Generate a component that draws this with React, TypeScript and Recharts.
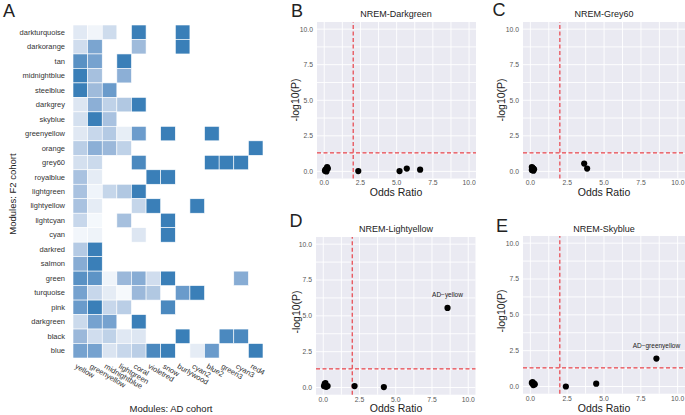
import React from "react"
import {
  CartesianGrid,
  LabelList,
  ReferenceLine,
  Scatter,
  ScatterChart,
  XAxis,
  YAxis,
} from "recharts"

// panel A: module overlap heatmap
const adModules = [
  "yellow", "greenyellow", "midnightblue", "lightgreen", "coral", "violetred",
  "snow", "burlywood", "cyan2", "blue2", "green3", "cyan3", "red4",
]

const f2Modules = [
  "darkturquoise", "darkorange", "tan", "midnightblue", "steelblue", "darkgrey",
  "skyblue", "greenyellow", "orange", "grey60", "royalblue", "lightgreen",
  "lightyellow", "lightcyan", "cyan", "darkred", "salmon", "green", "turquoise",
  "pink", "darkgreen", "black", "blue",
]

const _ = null
const overlap: (number | null)[][] = [
  [0.17, 0.05, 0.3, _, 1, _, _, 1, _, _, _, _, _],
  [0.29, 0.73, _, _, 0.58, _, _, 1, _, _, _, _, _],
  [0.87, 0.75, _, 1, _, _, _, _, _, _, _, _, _],
  [1, 0.54, _, 0.66, _, _, _, _, _, _, _, _, _],
  [1, 0.58, 0.8, _, _, _, _, _, _, _, _, _, _],
  [0.2, 0.66, 0.4, 0.48, 1, _, _, _, _, _, _, _, _],
  [0.26, 1, 0.52, _, _, _, _, _, _, _, _, _, _],
  [0.18, 0.35, 0.46, 0.12, 0.79, _, 1, _, _, 1, _, _, _],
  [0.43, 0.66, 0.6, 0.4, _, _, _, _, _, _, _, _, 1],
  [0.26, 0.32, _, _, 0.93, _, _, _, _, 1, 1, 1, _],
  [0.52, 0.14, _, _, _, 1, 1, _, _, _, _, _, _],
  [0.52, 0.06, 0.36, 0.48, 1, _, _, _, _, _, _, _, _],
  [0.52, 0.14, _, _, 0.36, 1, _, _, 1, _, _, _, _],
  [0.35, 0.02, _, 0.54, _, _, 1, _, _, _, _, _, _],
  [0.04, 0.07, _, _, 0.2, _, 1, _, _, _, _, _, _],
  [0.46, 1, _, _, _, _, _, _, _, _, _, _, _],
  [0.68, 1, _, _, _, _, _, _, _, _, _, _, _],
  [0.87, 0.85, 0.06, 0.6, 0.68, 0.29, 1, _, _, _, _, 0.68, _],
  [0.75, 0.35, 0.14, 0.01, 0.6, 0.48, _, 0.8, 1, _, _, _, _],
  [0.8, 1, 0.35, 0.43, _, _, 0.93, _, _, _, _, _, _],
  [0.32, 0.75, 0.75, _, 1, _, _, _, _, _, _, _, _],
  [0.6, 0.29, 0.4, 0.18, 0.2, _, _, 1, _, _, 0.93, 0.93, _],
  [0.75, 0.75, 0.22, 0.35, 0.43, 0.93, 1, _, 0.14, 0.8, _, _, 1],
]

// panels B-E: odds ratio vs -log10(P)
const darkgreenOdds = [0.05, 0.1, 0.2, 0.25, 0.15, 2.35, 5.2, 5.7, 6.62]
const darkgreenLogP = [0.05, 0.15, 0.3, 0.2, 0.0, 0.02, 0.02, 0.2, 0.12]

const grey60Odds = [0.1, 0.15, 0.2, 0.25, 0.1, 0.2, 3.65, 3.85]
const grey60LogP = [0.1, 0.25, 0.05, 0.15, 0.3, 0.2, 0.55, 0.2]

const lightyellowOdds = [0.05, 0.1, 0.15, 0.3, 0.2, 2.16, 4.18, 8.57]
const lightyellowLogP = [0.1, 0.25, 0.3, 0.1, 0.05, 0.1, 0.03, 5.55]
const lightyellowNames = ["", "", "", "", "", "", "", "AD\u2212yellow"]

const skyblueOdds = [0.1, 0.2, 0.3, 0.25, 0.15, 2.41, 4.47, 8.56]
const skyblueLogP = [0.25, 0.1, 0.15, 0.2, 0.3, 0.0, 0.2, 1.95]
const skyblueNames = ["", "", "", "", "", "", "", "AD\u2212greenyellow"]

const axisTicks = [0, 2.5, 5, 7.5, 10]
const gridValues = [0, 1.25, 2.5, 3.75, 5, 6.25, 7.5, 8.75, 10]

const font = "'Liberation Sans', Arial, Helvetica, sans-serif"

const blueStops: [number, number[]][] = [
  [0, [247, 250, 253]],
  [0.2, [221, 230, 242]],
  [0.4, [191, 210, 232]],
  [0.6, [155, 184, 218]],
  [0.8, [106, 155, 203]],
  [1, [58, 127, 184]],
]

function blues(v: number) {
  for (let i = 1; i < blueStops.length; i++) {
    const [t1, c1] = blueStops[i]
    const [t0, c0] = blueStops[i - 1]
    if (v <= t1) {
      const f = (v - t0) / (t1 - t0)
      const c = c0.map((a, k) => Math.round(a + (c1[k] - a) * f))
      return `rgb(${c[0]},${c[1]},${c[2]})`
    }
  }
  return "rgb(58,127,184)"
}

const heatW = 280
const heatH = 415
const heatMargin = { top: 25, right: 17, bottom: 0, left: 0 }
const heatYAxisW = 73
const heatXAxisH = 57
const cellW = (heatW - heatMargin.left - heatMargin.right - heatYAxisW) / adModules.length
const cellH = (heatH - heatMargin.top - heatMargin.bottom - heatXAxisH) / f2Modules.length

const heatCells = overlap.flatMap((row, r) =>
  row
    .map((v, c) => (v === null ? null : { x: c + 0.5, y: r + 0.5, v }))
    .filter((d) => d !== null)
)

const HeatCell = (props: any) => {
  const { cx, cy, payload } = props
  return (
    <rect
      x={cx - cellW / 2}
      y={cy - cellH / 2}
      width={cellW}
      height={cellH}
      fill={blues(payload.v)}
      stroke="#fff"
      strokeWidth={0.6}
    />
  )
}

const AdTick = (props: any) => {
  const { x, y, payload } = props
  return (
    <text
      x={x - 3}
      y={y}
      transform={`rotate(30 ${x - 3} ${y})`}
      fontSize={7.5}
      fill="#333"
      stroke="none"
      textAnchor="start"
      dominantBaseline="hanging"
    >
      {adModules[Math.floor(payload.value)]}
    </text>
  )
}

const F2Tick = (props: any) => {
  const { x, y, payload } = props
  return (
    <text x={x} y={y} fontSize={7.5} fill="#333" stroke="none" textAnchor="end" dominantBaseline="central">
      {f2Modules[Math.floor(payload.value)]}
    </text>
  )
}

function Txt({ x, y, size, children, rotate = 0, color = "#222", weight = 400 }: any) {
  return (
    <div
      style={{
        position: "absolute",
        left: x,
        top: y,
        transform: `translate(-50%, -50%) rotate(${rotate}deg)`,
        fontSize: size,
        color,
        fontWeight: weight,
        whiteSpace: "nowrap",
        lineHeight: 1,
      }}
    >
      {children}
    </div>
  )
}

function Heatmap() {
  return (
    <div style={{ position: "absolute", left: 0, top: 0 }}>
      <ScatterChart width={heatW} height={heatH} margin={heatMargin}>
        <XAxis
          type="number"
          dataKey="x"
          domain={[0, adModules.length]}
          ticks={adModules.map((_, i) => i + 0.5)}
          interval={0}
          axisLine={false}
          tickLine={false}
          tickSize={2}
          tickMargin={3}
          height={heatXAxisH}
          tick={<AdTick />}
        />
        <YAxis
          type="number"
          dataKey="y"
          domain={[0, f2Modules.length]}
          reversed
          ticks={f2Modules.map((_, i) => i + 0.5)}
          interval={0}
          axisLine={false}
          tickLine={false}
          tickSize={4}
          tickMargin={4}
          width={heatYAxisW}
          tick={<F2Tick />}
        />
        <Scatter data={heatCells} shape={HeatCell} isAnimationActive={false} />
      </ScatterChart>
    </div>
  )
}

const Dot = (props: any) => <circle cx={props.cx} cy={props.cy} r={3.1} fill="#000" />

function OddsPanel({ left, top, w, h, odds, logp, names }: any) {
  const data = odds.map((x: number, i: number) => ({
    x,
    y: logp[i],
    name: names ? names[i] : "",
  }))
  return (
    <div style={{ position: "absolute", left: left - 32, top: top - 2 }}>
      <ScatterChart width={w + 32} height={h + 16} margin={{ top: 2, right: 0, bottom: 0, left: 0 }}>
        <CartesianGrid
          fill="#eaeaf2"
          fillOpacity={1}
          stroke="#fff"
          strokeWidth={0.9}
          horizontalValues={gridValues}
          verticalValues={gridValues}
        />
        <XAxis
          type="number"
          dataKey="x"
          domain={[-0.5, 10.5]}
          ticks={axisTicks}
          interval={0}
          tickFormatter={(v) => v.toFixed(1)}
          axisLine={false}
          tickLine={false}
          tickSize={1}
          tickMargin={1}
          height={14}
          allowDataOverflow
          tick={{ fontSize: 6.8, fill: "#555" }}
        />
        <YAxis
          type="number"
          dataKey="y"
          domain={[-0.5, 10.5]}
          ticks={axisTicks}
          interval={0}
          tickFormatter={(v) => v.toFixed(1)}
          axisLine={false}
          tickLine={false}
          tickSize={3}
          tickMargin={1}
          width={32}
          allowDataOverflow
          tick={{ fontSize: 6.8, fill: "#555" }}
        />
        <ReferenceLine x={2} stroke="#e8434a" strokeDasharray="4 2.5" strokeWidth={1.2} />
        <ReferenceLine y={1.3} stroke="#e8434a" strokeDasharray="4 2.5" strokeWidth={1.2} />
        <Scatter data={data} shape={Dot} isAnimationActive={false}>
          <LabelList dataKey="name" position="top" offset={6} fontSize={6.5} fill="#222" />
        </Scatter>
      </ScatterChart>
    </div>
  )
}

export default function App() {
  return (
    <div
      style={{
        position: "absolute",
        left: 0,
        top: 0,
        width: 685,
        height: 415,
        background: "#fff",
        fontFamily: font,
        overflow: "hidden",
      }}
    >
      <Heatmap />
      <Txt x={13} y={194} size={9.5} rotate={-90}>Modules: F2 cohort</Txt>
      <Txt x={171} y={409} size={9.5}>Modules: AD cohort</Txt>

      <OddsPanel left={316.5} top={22.3} w={159.3} h={156.5} odds={darkgreenOdds} logp={darkgreenLogP} />
      <OddsPanel left={522.8} top={22.3} w={162.2} h={156.5} odds={grey60Odds} logp={grey60LogP} />
      <OddsPanel
        left={316.3}
        top={237}
        w={159.5}
        h={157.7}
        odds={lightyellowOdds}
        logp={lightyellowLogP}
        names={lightyellowNames}
      />
      <OddsPanel
        left={523}
        top={236.3}
        w={162}
        h={157.7}
        odds={skyblueOdds}
        logp={skyblueLogP}
        names={skyblueNames}
      />

      <Txt x={396} y={14} size={9}>NREM-Darkgreen</Txt>
      <Txt x={604} y={14} size={9}>NREM-Grey60</Txt>
      <Txt x={396} y={229} size={9}>NREM-Lightyellow</Txt>
      <Txt x={604} y={229} size={9}>NREM-Skyblue</Txt>

      <Txt x={396} y={192} size={10.5}>Odds Ratio</Txt>
      <Txt x={604} y={192} size={10.5}>Odds Ratio</Txt>
      <Txt x={396} y={408} size={10.5}>Odds Ratio</Txt>
      <Txt x={604} y={408} size={10.5}>Odds Ratio</Txt>

      <Txt x={295} y={100} size={10.5} rotate={-90}>-log10(P)</Txt>
      <Txt x={501} y={100} size={10.5} rotate={-90}>-log10(P)</Txt>
      <Txt x={296} y={312} size={10.5} rotate={-90}>-log10(P)</Txt>
      <Txt x={501} y={311} size={10.5} rotate={-90}>-log10(P)</Txt>

      <Txt x={9} y={11} size={18} weight={300}>A</Txt>
      <Txt x={297} y={11} size={18} weight={300}>B</Txt>
      <Txt x={499} y={10} size={18} weight={300}>C</Txt>
      <Txt x={296} y={221} size={18} weight={300}>D</Txt>
      <Txt x={502} y={226} size={18} weight={300}>E</Txt>
    </div>
  )
}
